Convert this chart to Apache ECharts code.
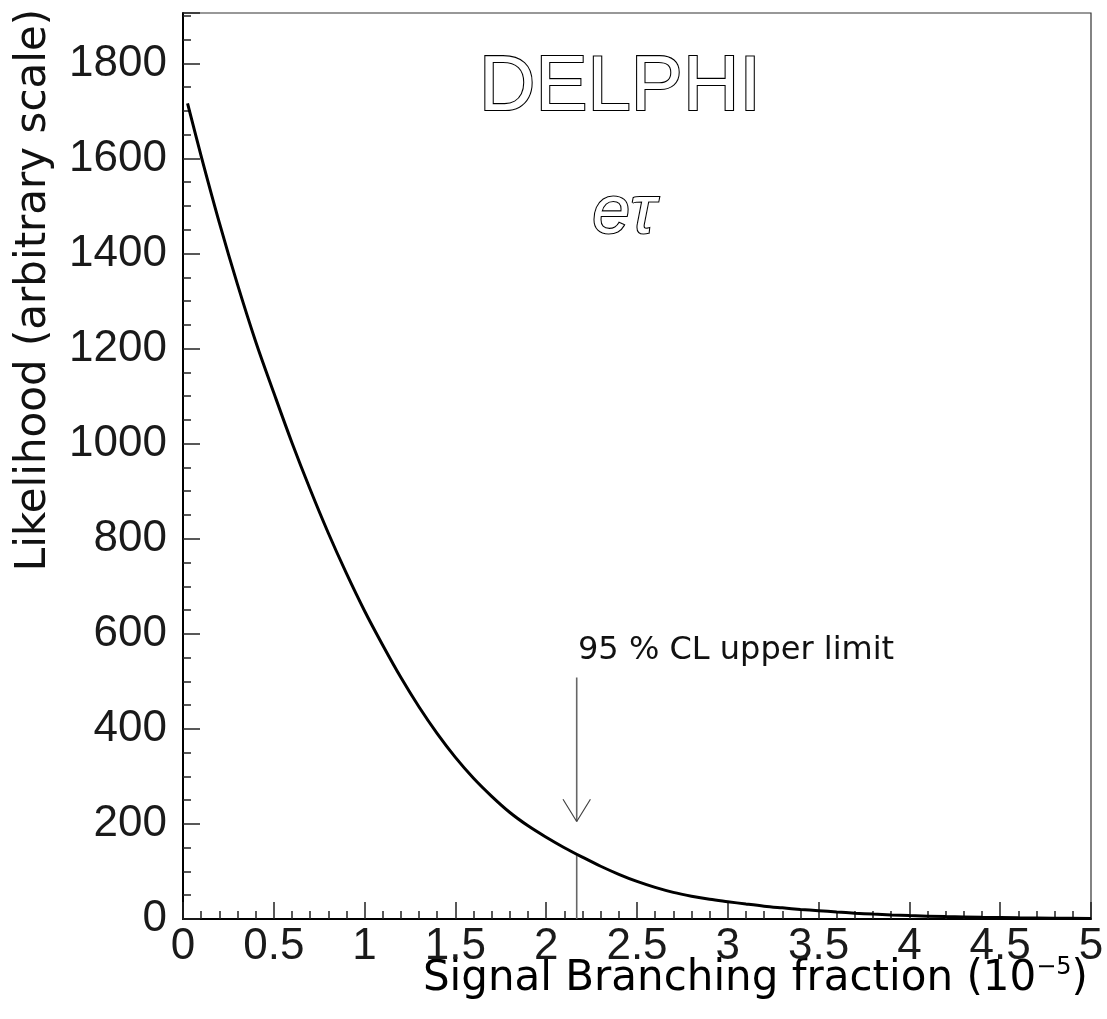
<!DOCTYPE html>
<html>
<head>
<meta charset="utf-8">
<script src="https://cdn.jsdelivr.net/npm/echarts@6/dist/echarts.min.js"></script>
<style>html,body{margin:0;padding:0;background:#fff;}#c{width:1107px;height:1019px;}</style>
</head>
<body>
<div id="c"></div>
<script>
// Likelihood curve
const curveX = [0.025,0.1,0.2,0.3,0.4,0.5,0.6,0.7,0.8,0.9,1.0,1.1,1.2,1.3,1.4,1.5,1.6,1.7,1.8,1.9,2.0,2.1,2.2,2.3,2.4,2.5,2.6,2.7,2.8,2.9,3.0,3.1,3.2,3.3,3.4,3.5,3.6,3.7,3.8,3.9,4.0,4.2,4.4,4.6,4.8,5.0];
const curveY = [1716,1605,1465,1335,1215,1107,1002,904,812,727,648,576,508,446,390,340,296,258,224,196,172,150,130,111,94,79,66.5,56,48,41.5,36.4,31.5,27,23.5,20.2,17.5,14.7,12.3,10.3,8.6,7.2,5,3.5,2.4,1.6,1.1];
// 95% CL upper limit marker
const upperLimitX = 2.168;
const upperLimitY = 134;
const arrowTopY = 508;
const arrowTipY = 205;
const arrowHeadY = 252;
const arrowHeadHalfWidth = 0.0755;
// Axes
const xMin = 0, xMax = 5, xMajor = 0.5;
const yMin = 0, yMax = 1906, yMajor = 200, yMinor = 50;
const xTitle = 'Signal Branching fraction (10';
const xTitleExp = '−5';
const yTitle = 'Likelihood (arbitrary scale)';
const experiment = 'DELPHI';
const channel = 'eτ';
const annotation = '95 % CL upper limit';

const chart = echarts.init(document.getElementById('c'), null, {renderer: 'canvas'});
const curve = curveX.map((x, i) => [x, curveY[i]]);
const labelFont = {fontFamily: 'Liberation Sans', fontSize: 44, color: '#1a1a1a'};

const option = {
  backgroundColor: '#fff',
  animation: false,
  grid: {left: 183, right: 16, top: 13, bottom: 100, show: true, borderColor: '#333', borderWidth: 1.2, backgroundColor: 'transparent'},
  xAxis: [{
    type: 'value', min: xMin, max: xMax, interval: xMajor,
    axisLine: {show: true, onZero: false, lineStyle: {color: '#000', width: 2}},
    axisTick: {show: true, inside: true, length: 17, lineStyle: {color: '#222', width: 1.5}},
    minorTick: {show: true, splitNumber: 5, length: 8, lineStyle: {color: '#222', width: 1.5}},
    splitLine: {show: false},
    axisLabel: Object.assign({margin: 28, verticalAlign: 'middle', formatter: v => String(v)}, labelFont)
  }],
  yAxis: [{
    type: 'value', min: yMin, max: yMax, interval: yMajor,
    axisLine: {show: true, onZero: false, lineStyle: {color: '#000', width: 2}},
    axisTick: {show: true, inside: true, length: 17, lineStyle: {color: '#222', width: 1.5}},
    splitLine: {show: false},
    axisLabel: Object.assign({margin: 16, formatter: v => (v % yMajor === 0 ? String(v) : '')}, labelFont)
  }, {
    type: 'value', min: yMin, max: yMax, interval: yMinor, position: 'left',
    axisLine: {show: false},
    axisTick: {show: true, inside: true, length: 8, lineStyle: {color: '#222', width: 1.5}},
    splitLine: {show: false},
    axisLabel: {show: false}
  }],
  series: [{
    type: 'line', data: curve, smooth: 0.35, showSymbol: false, symbol: 'none',
    lineStyle: {color: '#000', width: 3}, z: 5
  }, {
    type: 'line', data: [[upperLimitX, 0], [upperLimitX, upperLimitY]], symbol: 'none',
    lineStyle: {color: '#666', width: 1.6}, z: 3
  }, {
    type: 'line', data: [[upperLimitX, arrowTopY], [upperLimitX, arrowTipY]], symbol: 'none',
    lineStyle: {color: '#666', width: 1.6}, z: 3
  }, {
    type: 'line', data: [[upperLimitX - arrowHeadHalfWidth, arrowHeadY], [upperLimitX, arrowTipY], [upperLimitX + arrowHeadHalfWidth, arrowHeadY]], symbol: 'none',
    lineStyle: {color: '#444', width: 1.2}, z: 3
  }],
  graphic: [
    {type: 'text', x: 620, y: 88, style: {text: experiment, font: '78px "Liberation Sans"', fill: '#fff', stroke: '#000', lineWidth: 2.2, textAlign: 'center', textVerticalAlign: 'middle'}},
    {type: 'text', x: 624, y: 214, style: {text: channel, font: 'italic 68px "Liberation Sans"', fill: '#fff', stroke: '#000', lineWidth: 2.2, textAlign: 'center', textVerticalAlign: 'middle'}},
    {type: 'text', x: 578, y: 651, style: {text: annotation, font: '32px "DejaVu Sans"', fill: '#111', textAlign: 'left', textVerticalAlign: 'middle'}},
    {type: 'text', x: 34, y: 290, rotation: Math.PI / 2, style: {text: yTitle, font: '42px "DejaVu Sans"', fill: '#111', textAlign: 'center', textVerticalAlign: 'middle'}},
    {type: 'text', x: 1088, y: 979, style: {
      text: '{m|' + xTitle + '}{s|' + xTitleExp + '}{m|)}',
      textAlign: 'right', textVerticalAlign: 'middle',
      rich: {m: {fontFamily: 'DejaVu Sans', fontSize: 42, color: '#111'}, s: {fontFamily: 'DejaVu Sans', fontSize: 24, color: '#111', verticalAlign: 'top', padding: [0, 0, 22, 0]}}
    }}
  ]
};
chart.setOption(option);
</script>
</body>
</html>
